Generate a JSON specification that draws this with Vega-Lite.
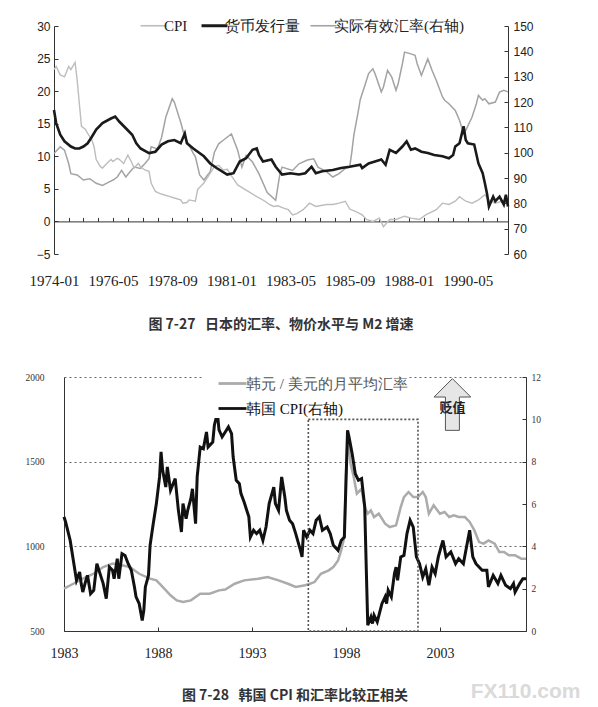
{
  "$schema": "https://vega.github.io/schema/vega-lite/v6.json",
  "background": "white",
  "padding": {"left": 14, "top": 18, "right": 0, "bottom": 0},
  "spacing": 39,
  "title": {"text": "FX110.com", "orient": "bottom", "anchor": "end", "offset": -22, "dx": 40, "font": "Liberation Sans", "fontSize": 21, "fontWeight": "bold", "color": "#dadada"},
  "config": {"view": {"stroke": null}},
  "resolve": {"scale": {"color": "independent"}, "legend": {"color": "independent"}},
  "datasets": {
    "jp_cpi": [
      {"date":"1974-01","value":23.3},{"date":"1974-02","value":23.8},{"date":"1974-04","value":22.5},{"date":"1974-06","value":22.2},{"date":"1974-08","value":23.8},{"date":"1974-09","value":23.3},{"date":"1974-11","value":24.4},{"date":"1974-12","value":21.7},{"date":"1975-01","value":18.1},{"date":"1975-02","value":14.6},{"date":"1975-04","value":14.1},{"date":"1975-05","value":13.5},{"date":"1975-07","value":12.5},{"date":"1975-08","value":11.5},{"date":"1975-09","value":9.5},{"date":"1975-11","value":8.4},{"date":"1975-12","value":8.2},{"date":"1976-02","value":8.9},{"date":"1976-04","value":9.5},{"date":"1976-05","value":9.2},{"date":"1976-07","value":9.7},{"date":"1976-08","value":9.5},{"date":"1976-10","value":8.9},{"date":"1976-12","value":10.2},{"date":"1977-02","value":8.9},{"date":"1977-03","value":8.2},{"date":"1977-05","value":8.9},{"date":"1977-06","value":8.4},{"date":"1977-08","value":7.9},{"date":"1977-10","value":7.7},{"date":"1977-11","value":5.9},{"date":"1978-01","value":4.6},{"date":"1978-03","value":4.3},{"date":"1978-05","value":4.1},{"date":"1978-08","value":3.8},{"date":"1978-10","value":3.6},{"date":"1979-01","value":3.3},{"date":"1979-02","value":2.8},{"date":"1979-04","value":2.9},{"date":"1979-05","value":3.3},{"date":"1979-08","value":3.1},{"date":"1979-09","value":4.9},{"date":"1979-12","value":5.9},{"date":"1980-02","value":6.9},{"date":"1980-05","value":8.4},{"date":"1980-07","value":8.6},{"date":"1980-09","value":7.9},{"date":"1980-11","value":8.0},{"date":"1981-01","value":7.0},{"date":"1981-04","value":5.6},{"date":"1981-07","value":5.0},{"date":"1981-09","value":4.6},{"date":"1982-01","value":3.8},{"date":"1982-05","value":3.1},{"date":"1982-07","value":2.6},{"date":"1982-09","value":2.3},{"date":"1982-11","value":2.4},{"date":"1983-02","value":2.0},{"date":"1983-04","value":1.8},{"date":"1983-06","value":1.0},{"date":"1983-08","value":1.2},{"date":"1983-11","value":1.8},{"date":"1984-02","value":2.8},{"date":"1984-05","value":2.3},{"date":"1984-10","value":2.6},{"date":"1985-01","value":2.6},{"date":"1985-04","value":2.8},{"date":"1985-07","value":3.1},{"date":"1985-09","value":1.9},{"date":"1985-12","value":1.5},{"date":"1986-03","value":1.0},{"date":"1986-05","value":0.3},{"date":"1986-08","value":0.0},{"date":"1986-11","value":0.5},{"date":"1987-01","value":-0.8},{"date":"1987-04","value":0.3},{"date":"1987-07","value":0.3},{"date":"1987-11","value":0.8},{"date":"1988-02","value":0.5},{"date":"1988-06","value":0.3},{"date":"1988-09","value":1.0},{"date":"1989-02","value":1.8},{"date":"1989-05","value":2.8},{"date":"1989-08","value":2.6},{"date":"1989-11","value":3.1},{"date":"1990-01","value":3.8},{"date":"1990-04","value":3.1},{"date":"1990-07","value":2.8},{"date":"1990-10","value":3.3},{"date":"1991-01","value":4.1},{"date":"1991-03","value":3.3},{"date":"1991-06","value":2.8},{"date":"1991-09","value":3.1},{"date":"1991-12","value":2.8}
    ],
    "jp_m": [
      {"date":"1974-01","value":17.1},{"date":"1974-02","value":15.1},{"date":"1974-04","value":13.3},{"date":"1974-06","value":12.3},{"date":"1974-09","value":11.5},{"date":"1974-11","value":11.2},{"date":"1975-01","value":11.2},{"date":"1975-03","value":11.5},{"date":"1975-05","value":12.0},{"date":"1975-07","value":13.0},{"date":"1975-09","value":14.1},{"date":"1975-12","value":15.1},{"date":"1976-04","value":15.8},{"date":"1976-06","value":16.1},{"date":"1976-08","value":15.3},{"date":"1976-11","value":14.3},{"date":"1977-02","value":13.3},{"date":"1977-04","value":12.0},{"date":"1977-06","value":11.2},{"date":"1977-10","value":10.5},{"date":"1978-01","value":10.7},{"date":"1978-04","value":11.8},{"date":"1978-07","value":12.3},{"date":"1978-10","value":12.5},{"date":"1979-01","value":12.0},{"date":"1979-03","value":13.5},{"date":"1979-04","value":12.0},{"date":"1979-07","value":11.2},{"date":"1979-12","value":10.0},{"date":"1980-03","value":8.9},{"date":"1980-06","value":8.2},{"date":"1980-11","value":7.2},{"date":"1981-02","value":7.4},{"date":"1981-05","value":9.2},{"date":"1981-08","value":9.7},{"date":"1981-11","value":11.0},{"date":"1982-01","value":11.2},{"date":"1982-02","value":10.2},{"date":"1982-04","value":9.2},{"date":"1982-08","value":9.5},{"date":"1982-10","value":8.4},{"date":"1983-01","value":7.2},{"date":"1983-05","value":7.4},{"date":"1983-09","value":7.2},{"date":"1983-12","value":7.4},{"date":"1984-03","value":8.4},{"date":"1984-05","value":7.4},{"date":"1984-08","value":7.7},{"date":"1985-01","value":7.9},{"date":"1985-05","value":8.2},{"date":"1985-09","value":8.4},{"date":"1986-02","value":8.7},{"date":"1986-03","value":8.2},{"date":"1986-06","value":8.9},{"date":"1986-09","value":9.2},{"date":"1986-12","value":9.5},{"date":"1987-02","value":8.7},{"date":"1987-04","value":11.0},{"date":"1987-07","value":10.5},{"date":"1987-10","value":11.5},{"date":"1987-12","value":12.3},{"date":"1988-02","value":11.0},{"date":"1988-04","value":11.2},{"date":"1988-07","value":10.7},{"date":"1988-10","value":10.5},{"date":"1989-01","value":10.2},{"date":"1989-05","value":10.0},{"date":"1989-08","value":9.7},{"date":"1989-10","value":10.2},{"date":"1989-11","value":11.5},{"date":"1990-01","value":12.0},{"date":"1990-03","value":14.6},{"date":"1990-04","value":12.5},{"date":"1990-05","value":12.0},{"date":"1990-08","value":11.8},{"date":"1990-10","value":8.9},{"date":"1990-12","value":7.4},{"date":"1991-01","value":5.9},{"date":"1991-02","value":4.3},{"date":"1991-03","value":2.3},{"date":"1991-05","value":3.8},{"date":"1991-06","value":3.1},{"date":"1991-08","value":3.8},{"date":"1991-10","value":2.6},{"date":"1991-11","value":4.1},{"date":"1991-12","value":2.3}
    ],
    "jp_reer": [
      {"date":"1974-01","value":99.7},{"date":"1974-04","value":102.3},{"date":"1974-06","value":101.0},{"date":"1974-08","value":95.6},{"date":"1974-09","value":91.7},{"date":"1974-12","value":91.2},{"date":"1975-03","value":89.2},{"date":"1975-06","value":89.7},{"date":"1975-09","value":87.9},{"date":"1975-12","value":87.1},{"date":"1976-03","value":88.4},{"date":"1976-05","value":89.2},{"date":"1976-07","value":90.4},{"date":"1976-09","value":93.0},{"date":"1976-11","value":90.4},{"date":"1977-01","value":92.5},{"date":"1977-03","value":94.3},{"date":"1977-06","value":93.8},{"date":"1977-08","value":95.6},{"date":"1977-10","value":97.6},{"date":"1977-11","value":102.3},{"date":"1978-02","value":101.5},{"date":"1978-04","value":106.1},{"date":"1978-06","value":114.1},{"date":"1978-09","value":121.3},{"date":"1978-10","value":120.0},{"date":"1979-01","value":112.0},{"date":"1979-03","value":106.0},{"date":"1979-05","value":103.0},{"date":"1979-07","value":99.7},{"date":"1979-08","value":98.4},{"date":"1979-10","value":91.2},{"date":"1979-12","value":89.2},{"date":"1980-03","value":92.5},{"date":"1980-05","value":100.2},{"date":"1980-07","value":103.5},{"date":"1980-09","value":104.8},{"date":"1981-01","value":107.4},{"date":"1981-04","value":101.0},{"date":"1981-06","value":94.3},{"date":"1981-08","value":98.9},{"date":"1981-11","value":96.3},{"date":"1982-02","value":91.7},{"date":"1982-06","value":84.3},{"date":"1982-10","value":81.2},{"date":"1982-12","value":91.7},{"date":"1983-01","value":94.3},{"date":"1983-06","value":93.0},{"date":"1983-09","value":95.6},{"date":"1984-01","value":97.1},{"date":"1984-04","value":97.6},{"date":"1984-06","value":94.3},{"date":"1984-10","value":92.5},{"date":"1985-01","value":90.4},{"date":"1985-04","value":91.7},{"date":"1985-07","value":93.8},{"date":"1985-09","value":94.3},{"date":"1985-10","value":100.0},{"date":"1985-11","value":107.0},{"date":"1986-01","value":116.0},{"date":"1986-02","value":121.0},{"date":"1986-04","value":125.9},{"date":"1986-06","value":131.2},{"date":"1986-08","value":133.1},{"date":"1986-09","value":131.2},{"date":"1986-12","value":124.0},{"date":"1987-01","value":125.9},{"date":"1987-03","value":132.5},{"date":"1987-05","value":129.8},{"date":"1987-07","value":124.6},{"date":"1987-08","value":127.2},{"date":"1987-10","value":135.1},{"date":"1987-11","value":139.7},{"date":"1988-02","value":139.0},{"date":"1988-04","value":138.4},{"date":"1988-05","value":135.1},{"date":"1988-07","value":130.5},{"date":"1988-10","value":137.0},{"date":"1988-12","value":132.5},{"date":"1989-02","value":128.5},{"date":"1989-05","value":122.0},{"date":"1989-06","value":120.7},{"date":"1989-08","value":119.3},{"date":"1989-11","value":116.7},{"date":"1990-01","value":112.8},{"date":"1990-03","value":107.5},{"date":"1990-04","value":108.8},{"date":"1990-07","value":114.1},{"date":"1990-09","value":119.3},{"date":"1990-10","value":122.6},{"date":"1990-12","value":120.7},{"date":"1991-01","value":121.3},{"date":"1991-03","value":119.3},{"date":"1991-06","value":120.0},{"date":"1991-08","value":123.9},{"date":"1991-10","value":124.6},{"date":"1991-12","value":124.0}
    ],
    "kr_fx": [
      {"date":"1983-01","value":750},{"date":"1983-07","value":779},{"date":"1984-01","value":809},{"date":"1984-08","value":838},{"date":"1985-02","value":878},{"date":"1985-08","value":898},{"date":"1986-02","value":888},{"date":"1986-07","value":878},{"date":"1987-01","value":838},{"date":"1987-08","value":809},{"date":"1987-12","value":799},{"date":"1988-04","value":760},{"date":"1988-09","value":711},{"date":"1989-01","value":681},{"date":"1989-05","value":671},{"date":"1989-10","value":681},{"date":"1990-04","value":720},{"date":"1990-10","value":720},{"date":"1991-04","value":740},{"date":"1991-08","value":745},{"date":"1992-02","value":779},{"date":"1992-08","value":799},{"date":"1993-05","value":809},{"date":"1993-11","value":819},{"date":"1994-06","value":799},{"date":"1994-12","value":779},{"date":"1995-05","value":760},{"date":"1995-11","value":770},{"date":"1996-02","value":779},{"date":"1996-05","value":789},{"date":"1996-09","value":838},{"date":"1997-02","value":858},{"date":"1997-05","value":878},{"date":"1997-08","value":917},{"date":"1997-10","value":976},{"date":"1997-12","value":1055},{"date":"1998-01","value":1420},{"date":"1998-02","value":1640},{"date":"1998-04","value":1488},{"date":"1998-06","value":1409},{"date":"1998-08","value":1311},{"date":"1998-11","value":1340},{"date":"1999-01","value":1232},{"date":"1999-03","value":1193},{"date":"1999-05","value":1212},{"date":"1999-07","value":1173},{"date":"1999-10","value":1193},{"date":"2000-02","value":1134},{"date":"2000-05","value":1114},{"date":"2000-09","value":1124},{"date":"2000-12","value":1232},{"date":"2001-02","value":1291},{"date":"2001-05","value":1321},{"date":"2001-08","value":1291},{"date":"2001-11","value":1291},{"date":"2002-02","value":1321},{"date":"2002-04","value":1291},{"date":"2002-06","value":1193},{"date":"2002-09","value":1242},{"date":"2003-01","value":1193},{"date":"2003-04","value":1203},{"date":"2003-07","value":1173},{"date":"2003-10","value":1183},{"date":"2004-01","value":1173},{"date":"2004-05","value":1173},{"date":"2004-08","value":1144},{"date":"2004-11","value":1094},{"date":"2005-02","value":1025},{"date":"2005-05","value":1016},{"date":"2005-08","value":1035},{"date":"2005-12","value":1016},{"date":"2006-03","value":966},{"date":"2006-06","value":966},{"date":"2006-09","value":947},{"date":"2007-01","value":947},{"date":"2007-05","value":927},{"date":"2007-08","value":927}
    ],
    "kr_cpi": [
      {"date":"1983-01","value":5.39},{"date":"1983-02","value":5.15},{"date":"1983-05","value":4.28},{"date":"1983-07","value":3.34},{"date":"1983-09","value":2.39},{"date":"1983-11","value":2.79},{"date":"1983-12","value":2.24},{"date":"1984-01","value":1.84},{"date":"1984-03","value":2.39},{"date":"1984-04","value":2.63},{"date":"1984-06","value":1.76},{"date":"1984-08","value":1.92},{"date":"1984-10","value":3.18},{"date":"1984-12","value":2.71},{"date":"1985-02","value":2.24},{"date":"1985-04","value":1.53},{"date":"1985-06","value":3.02},{"date":"1985-08","value":2.87},{"date":"1985-09","value":2.47},{"date":"1985-11","value":3.42},{"date":"1985-12","value":2.47},{"date":"1986-02","value":3.65},{"date":"1986-04","value":3.57},{"date":"1986-06","value":3.18},{"date":"1986-08","value":2.87},{"date":"1986-10","value":2.08},{"date":"1986-11","value":1.61},{"date":"1987-01","value":1.29},{"date":"1987-03","value":0.5},{"date":"1987-04","value":0.98},{"date":"1987-05","value":2.08},{"date":"1987-07","value":2.63},{"date":"1987-08","value":4.05},{"date":"1987-10","value":5.07},{"date":"1987-12","value":6.02},{"date":"1988-02","value":7.28},{"date":"1988-03","value":8.46},{"date":"1988-04","value":7.59},{"date":"1988-06","value":6.8},{"date":"1988-07","value":7.75},{"date":"1988-09","value":6.65},{"date":"1988-12","value":7.2},{"date":"1989-02","value":5.7},{"date":"1989-04","value":4.68},{"date":"1989-05","value":6.02},{"date":"1989-07","value":5.31},{"date":"1989-08","value":5.7},{"date":"1989-10","value":6.25},{"date":"1989-11","value":6.72},{"date":"1990-01","value":5.07},{"date":"1990-02","value":7.28},{"date":"1990-04","value":8.69},{"date":"1990-06","value":8.61},{"date":"1990-08","value":9.4},{"date":"1990-09","value":8.69},{"date":"1990-12","value":8.93},{"date":"1991-01","value":9.72},{"date":"1991-03","value":10.3},{"date":"1991-04","value":9.5},{"date":"1991-06","value":9.17},{"date":"1991-08","value":9.4},{"date":"1991-10","value":9.64},{"date":"1991-12","value":9.32},{"date":"1992-01","value":8.22},{"date":"1992-03","value":7.12},{"date":"1992-05","value":6.96},{"date":"1992-06","value":6.49},{"date":"1992-08","value":6.09},{"date":"1992-11","value":5.39},{"date":"1992-12","value":4.44},{"date":"1993-02","value":4.76},{"date":"1993-04","value":4.6},{"date":"1993-06","value":4.76},{"date":"1993-08","value":4.28},{"date":"1993-10","value":4.91},{"date":"1993-12","value":6.02},{"date":"1994-03","value":6.8},{"date":"1994-04","value":6.02},{"date":"1994-06","value":5.7},{"date":"1994-08","value":7.28},{"date":"1994-10","value":6.33},{"date":"1994-11","value":5.7},{"date":"1995-01","value":5.23},{"date":"1995-03","value":5.07},{"date":"1995-05","value":4.6},{"date":"1995-08","value":3.81},{"date":"1995-09","value":3.5},{"date":"1995-10","value":4.76},{"date":"1995-12","value":4.44},{"date":"1996-02","value":4.76},{"date":"1996-04","value":4.6},{"date":"1996-06","value":5.23},{"date":"1996-08","value":5.39},{"date":"1996-10","value":4.76},{"date":"1997-01","value":4.91},{"date":"1997-03","value":4.6},{"date":"1997-05","value":4.05},{"date":"1997-08","value":3.81},{"date":"1997-10","value":4.28},{"date":"1997-12","value":4.44},{"date":"1998-02","value":9.48},{"date":"1998-03","value":9.17},{"date":"1998-05","value":8.38},{"date":"1998-07","value":7.43},{"date":"1998-09","value":7.12},{"date":"1998-11","value":7.2},{"date":"1999-01","value":5.86},{"date":"1999-02","value":2.87},{"date":"1999-03","value":0.27},{"date":"1999-05","value":0.66},{"date":"1999-06","value":0.35},{"date":"1999-07","value":0.74},{"date":"1999-09","value":0.43},{"date":"1999-12","value":1.29},{"date":"2000-02","value":1.61},{"date":"2000-03","value":1.29},{"date":"2000-04","value":1.92},{"date":"2000-06","value":1.61},{"date":"2000-08","value":2.71},{"date":"2000-09","value":3.02},{"date":"2000-10","value":2.39},{"date":"2000-12","value":3.5},{"date":"2001-02","value":3.57},{"date":"2001-04","value":4.6},{"date":"2001-06","value":5.23},{"date":"2001-08","value":4.91},{"date":"2001-10","value":3.5},{"date":"2001-12","value":3.18},{"date":"2002-02","value":2.55},{"date":"2002-04","value":2.94},{"date":"2002-06","value":2.16},{"date":"2002-08","value":3.02},{"date":"2002-10","value":2.71},{"date":"2002-12","value":3.5},{"date":"2003-02","value":4.05},{"date":"2003-03","value":4.28},{"date":"2003-05","value":3.5},{"date":"2003-08","value":3.73},{"date":"2003-11","value":3.18},{"date":"2004-01","value":3.42},{"date":"2004-04","value":3.18},{"date":"2004-06","value":3.97},{"date":"2004-08","value":4.76},{"date":"2004-10","value":3.5},{"date":"2004-12","value":3.18},{"date":"2005-04","value":2.87},{"date":"2005-07","value":2.87},{"date":"2005-08","value":2.08},{"date":"2005-11","value":2.63},{"date":"2006-02","value":2.24},{"date":"2006-04","value":2.63},{"date":"2006-07","value":2.16},{"date":"2006-10","value":2.0},{"date":"2006-12","value":2.24},{"date":"2007-01","value":1.84},{"date":"2007-04","value":2.24},{"date":"2007-06","value":2.47},{"date":"2007-08","value":2.47}
    ],
    "kr_box": [{"start":"1996-01","end":"2001-11","low":0,"high":10}],
    "kr_arrow": [{"date":"2003-09","value":10.7,"label":"贬值"}]
  },
  "vconcat": [
    {
      "width": 454,
      "height": 228,
      "title": {"text": "图 7-27\u00a0\u00a0\u00a0日本的汇率、物价水平与 M2 增速", "orient": "bottom", "font": "Noto Sans CJK SC", "fontSize": 14, "fontWeight": "bold", "color": "#333", "offset": 30},
      "encoding": {
        "x": {
          "field": "date", "type": "temporal", "title": null,
          "scale": {"type": "utc", "domain": [{"year":1974,"month":1,"date":1,"utc":true},{"year":1991,"month":12,"date":1,"utc":true}]},
          "axis": {
            "orient": "bottom", "offset": -32.6, "grid": false,
            "values": [{"year":1974,"month":1,"utc":true},{"year":1974,"month":8,"utc":true},{"year":1975,"month":3,"utc":true},{"year":1975,"month":10,"utc":true},{"year":1976,"month":5,"utc":true},{"year":1976,"month":12,"utc":true},{"year":1977,"month":7,"utc":true},{"year":1978,"month":2,"utc":true},{"year":1978,"month":9,"utc":true},{"year":1979,"month":4,"utc":true},{"year":1979,"month":11,"utc":true},{"year":1980,"month":6,"utc":true},{"year":1981,"month":1,"utc":true},{"year":1981,"month":8,"utc":true},{"year":1982,"month":3,"utc":true},{"year":1982,"month":10,"utc":true},{"year":1983,"month":5,"utc":true},{"year":1983,"month":12,"utc":true},{"year":1984,"month":7,"utc":true},{"year":1985,"month":2,"utc":true},{"year":1985,"month":9,"utc":true},{"year":1986,"month":4,"utc":true},{"year":1986,"month":11,"utc":true},{"year":1987,"month":6,"utc":true},{"year":1988,"month":1,"utc":true},{"year":1988,"month":8,"utc":true},{"year":1989,"month":3,"utc":true},{"year":1989,"month":10,"utc":true},{"year":1990,"month":5,"utc":true},{"year":1990,"month":12,"utc":true},{"year":1991,"month":7,"utc":true}],
            "labelExpr": "(((utcyear(datum.value) - 1974) * 12 + utcmonth(datum.value)) % 28 == 0) ? utcFormat(datum.value, '%Y-%m') : ''",
            "labelFont": "Liberation Serif", "labelFontSize": 15, "labelColor": "#222", "labelAlign": "center",
            "labelPadding": 56, "labelOverlap": false, "labelFlush": false,
            "domainColor": "#333", "tickColor": "#333", "tickSize": -4
          }
        }
      },
      "layer": [
        {
          "data": {"name": "jp_reer"},
          "mark": {"type": "line", "strokeWidth": 1.5},
          "encoding": {
            "y": {
              "field": "value", "type": "quantitative", "title": null,
              "scale": {"domain": [60, 150], "nice": false, "zero": false},
              "axis": {"orient": "right", "values": [60,70,80,90,100,110,120,130,140,150], "grid": false, "labelFont": "Liberation Sans", "labelFontSize": 12, "labelColor": "#222", "labelPadding": 9, "domainColor": "#333", "tickColor": "#333", "tickSize": -4}
            },
            "color": {
              "datum": "实际有效汇率(右轴)",
              "scale": {"domain": ["CPI", "货币发行量", "实际有效汇率(右轴)"], "range": ["#bdbdbd", "#1a1a1a", "#a3a3a3"]},
              "legend": {
                "orient": "none", "direction": "horizontal", "legendX": 92, "legendY": -8,
                "title": null, "symbolType": "stroke", "symbolSize": 676, "symbolStrokeWidth": 1.6,
                "labelFont": "Liberation Serif", "labelFontSize": 15, "labelColor": "#222", "labelOffset": 3,
                "columnPadding": 7, "padding": 0,
                "encode": {"symbols": {"update": {"strokeWidth": {"signal": "datum.label === '货币发行量' ? 3 : 1.6"}}}}
              }
            }
          }
        },
        {
          "encoding": {
            "y": {
              "field": "value", "type": "quantitative", "title": null,
              "scale": {"domain": [-5, 30], "nice": false, "zero": false},
              "axis": {"orient": "left", "values": [-5,0,5,10,15,20,25,30], "grid": false, "minExtent": 40, "maxExtent": 40, "labelFont": "Liberation Sans", "labelFontSize": 12, "labelColor": "#222", "labelPadding": 8, "domainColor": "#333", "tickColor": "#333", "tickSize": -4}
            }
          },
          "layer": [
            {
              "data": {"name": "jp_cpi"},
              "mark": {"type": "line", "strokeWidth": 1.4},
              "encoding": {"color": {"datum": "CPI"}}
            },
            {
              "data": {"name": "jp_m"},
              "mark": {"type": "line", "strokeWidth": 2.6},
              "encoding": {"color": {"datum": "货币发行量"}}
            }
          ]
        }
      ],
      "resolve": {"scale": {"y": "independent"}}
    },
    {
      "spacing": -41,
      "hconcat": [
        {
          "width": 1,
          "height": 1,
          "data": {"values": []},
          "mark": "point"
        },
        {
          "width": 462,
          "height": 254,
          "title": {"text": "图 7-28\u00a0\u00a0\u00a0韩国 CPI 和汇率比较正相关", "orient": "bottom", "font": "Noto Sans CJK SC", "fontSize": 14, "fontWeight": "bold", "color": "#333", "offset": 29},
          "encoding": {
            "x": {
              "field": "date", "type": "temporal", "title": null,
              "scale": {"type": "utc", "domain": [{"year":1983,"month":1,"date":1,"utc":true},{"year":2007,"month":8,"date":1,"utc":true}]},
              "axis": {
                "orient": "bottom", "grid": false,
                "values": [{"year":1983,"month":1,"utc":true},{"year":1988,"month":1,"utc":true},{"year":1993,"month":1,"utc":true},{"year":1998,"month":1,"utc":true},{"year":2003,"month":1,"utc":true}],
                "format": "%Y", "labelFont": "Liberation Serif", "labelFontSize": 14, "labelColor": "#222", "labelAlign": "center",
                "labelPadding": 19, "labelFlush": false, "labelOverlap": false,
                "domainColor": "#333", "tickColor": "#333", "tickSize": -4
              }
            }
          },
          "layer": [
            {
              "data": {"name": "kr_fx"},
              "mark": {"type": "line", "strokeWidth": 2.5},
              "encoding": {
                "y": {
                  "field": "value", "type": "quantitative", "title": null,
                  "scale": {"domain": [500, 2000], "nice": false, "zero": false},
                  "axis": {"orient": "left", "values": [500,1000,1500,2000], "format": "d", "grid": true, "gridDash": [2,3], "gridColor": "#666", "gridWidth": 1, "ticks": false, "minExtent": 50, "maxExtent": 50, "labelFont": "Liberation Serif", "labelFontSize": 9.5, "labelColor": "#333", "labelPadding": 20, "domainColor": "#333"}
                },
                "color": {
                  "datum": "韩元 / 美元的月平均汇率",
                  "scale": {"domain": ["韩元 / 美元的月平均汇率", "韩国 CPI(右轴)"], "range": ["#ababab", "#111111"]},
                  "legend": {
                    "orient": "none", "direction": "vertical", "legendX": 149, "legendY": -3,
                    "title": null, "symbolType": "M-2,0L2,0", "symbolSize": 196, "symbolStrokeWidth": 2.8,
                    "symbolOffset": 20, "labelLimit": 0,
                    "labelFont": "Liberation Serif", "labelFontSize": 15, "labelColor": "#333", "labelOffset": 5,
                    "rowPadding": 8, "padding": 1, "fillColor": "white",
                    "encode": {"labels": {"update": {"fill": {"signal": "datum.label === '韩国 CPI(右轴)' ? '#111' : '#555'"}}}}
                  }
                }
              }
            },
            {
              "encoding": {
                "y": {
                  "field": "value", "type": "quantitative", "title": null,
                  "scale": {"domain": [0, 12], "nice": false, "zero": false},
                  "axis": {"orient": "right", "values": [0,2,4,6,8,10,12], "grid": false, "labelFont": "Liberation Serif", "labelFontSize": 9.5, "labelColor": "#333", "labelPadding": 9, "domainColor": "#333", "tickColor": "#333", "tickSize": -4}
                }
              },
              "layer": [
                {
                  "data": {"name": "kr_cpi"},
                  "mark": {"type": "line", "strokeWidth": 3},
                  "encoding": {"color": {"datum": "韩国 CPI(右轴)"}}
                },
                {
                  "data": {"name": "kr_box"},
                  "mark": {"type": "rect", "filled": false, "stroke": "#555", "strokeWidth": 1.6, "strokeDash": [2, 2]},
                  "encoding": {
                    "x": {"field": "start", "type": "temporal"},
                    "x2": {"field": "end"},
                    "y": {"field": "low", "type": "quantitative"},
                    "y2": {"field": "high"}
                  }
                },
                {
                  "data": {"name": "kr_arrow"},
                  "mark": {"type": "point", "shape": "M0,-1L0.71,-0.29L0.27,-0.29L0.27,1L-0.27,1L-0.27,-0.29L-0.71,-0.29Z", "size": 2673, "filled": true, "fill": "#e6e6e6", "stroke": "#555", "strokeWidth": 1, "opacity": 1}
                },
                {
                  "data": {"name": "kr_arrow"},
                  "mark": {"type": "text", "font": "Noto Sans CJK SC", "fontSize": 13, "fontWeight": "bold", "color": "#222", "baseline": "middle", "dy": 3},
                  "encoding": {"text": {"field": "label"}}
                }
              ]
            }
          ],
          "resolve": {"scale": {"y": "independent"}}
        }
      ]
    }
  ]
}
